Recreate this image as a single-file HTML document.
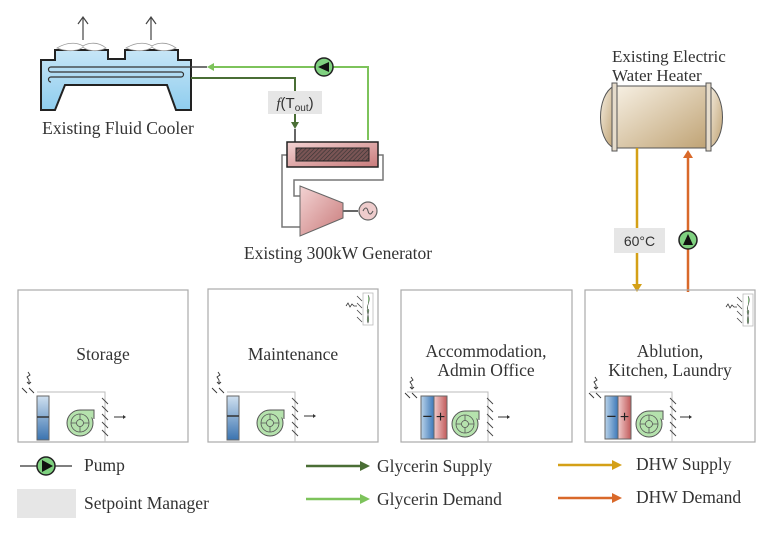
<!DOCTYPE html>
<html><head><meta charset="utf-8"><style>
html,body{margin:0;padding:0;background:#fff}
svg text{font-family:"Liberation Serif",serif;fill:#333}
svg text.sans{font-family:"Liberation Sans",sans-serif}
</style></head><body>
<svg width="768" height="532" viewBox="0 0 768 532" xmlns="http://www.w3.org/2000/svg">
<defs>
<linearGradient id="cool" x1="0" y1="0" x2="0" y2="1"><stop offset="0" stop-color="#c7e6f7"/><stop offset="1" stop-color="#8fcdee"/></linearGradient>
<linearGradient id="tank" x1="0" y1="0" x2="1" y2="1"><stop offset="0" stop-color="#f6efe2"/><stop offset="1" stop-color="#bfa273"/></linearGradient>
<linearGradient id="red" x1="0" y1="0" x2="1" y2="1"><stop offset="0" stop-color="#f3d3d3"/><stop offset="1" stop-color="#c97b7b"/></linearGradient>
<linearGradient id="blue" x1="0" y1="0" x2="1" y2="0"><stop offset="0" stop-color="#b9d3ea"/><stop offset="1" stop-color="#3d78b8"/></linearGradient>
<linearGradient id="blueV" x1="0" y1="0" x2="0" y2="1"><stop offset="0" stop-color="#cfe0f0"/><stop offset="1" stop-color="#3a73b0"/></linearGradient>
<linearGradient id="redH" x1="0" y1="0" x2="1" y2="0"><stop offset="0" stop-color="#f0cccc"/><stop offset="1" stop-color="#c25a5a"/></linearGradient>
<pattern id="hatch" width="3" height="3" patternUnits="userSpaceOnUse" patternTransform="rotate(45)"><rect width="3" height="3" fill="#7a5555"/><line x1="0" y1="0" x2="0" y2="3" stroke="#333" stroke-width="1.2"/></pattern>
<g id="fan">
<circle r="13" fill="#b5e2ad" stroke="#555" stroke-width="1"/>
<path d="M0,-13 L14,-13 L14,-4" fill="#b5e2ad" stroke="#555" stroke-width="1"/>
<circle r="9" fill="none" stroke="#555" stroke-width="0.8"/>
<circle r="3.5" fill="none" stroke="#555" stroke-width="0.8"/>
<path d="M0,-9 L0,-3.5 M0,9 L0,3.5 M-9,0 L-3.5,0 M9,0 L3.5,0" stroke="#555" stroke-width="0.8"/>
</g>
<g id="hat" stroke="#444" stroke-width="0.9">
<line x1="0" y1="0" x2="6" y2="6"/><line x1="0" y1="8" x2="6" y2="14"/><line x1="0" y1="16" x2="6" y2="22"/><line x1="0" y1="24" x2="6" y2="30"/><line x1="0" y1="32" x2="6" y2="38"/>
</g>
<g id="sens" stroke="#333" stroke-width="0.9" fill="none">
<path d="M0,0 l2,3 l-3,2 l2,3"/><path d="M1,8 l0,3" /><path d="M-1,10 l2,2 l2,-2" />
<line x1="-6" y1="16" x2="-1" y2="21"/><line x1="1" y1="16" x2="6" y2="21"/>
</g>
<g id="thermo">
<line x1="-9" y1="2" x2="-4" y2="7" stroke="#444" stroke-width="0.8"/>
<line x1="-9" y1="9" x2="-4" y2="14" stroke="#444" stroke-width="0.8"/>
<line x1="-9" y1="16" x2="-4" y2="21" stroke="#444" stroke-width="0.8"/>
<line x1="-9" y1="23" x2="-4" y2="28" stroke="#444" stroke-width="0.8"/>
<rect x="-3" y="-1" width="10" height="32" fill="#fff" stroke="#bbb" stroke-width="0.8"/>
<path d="M2,1 C6,6 -1,14 2,15 C5,16 -1,24 2,29 C5,24 -1,16 2,15" fill="#8fd08a" stroke="#555" stroke-width="0.6"/>
<path d="M-20,12 l2,-3 l2,4 l2,-3 l2,2 l3,0" stroke="#333" stroke-width="0.8" fill="none"/>
</g>
</defs>

<!-- Fluid cooler -->
<line x1="83" y1="40" x2="83" y2="18" stroke="#444" stroke-width="1.2"/><path d="M78,24 L83,17 L88,24" fill="none" stroke="#444" stroke-width="1.2"/>
<line x1="151" y1="40" x2="151" y2="18" stroke="#444" stroke-width="1.2"/><path d="M146,24 L151,17 L156,24" fill="none" stroke="#444" stroke-width="1.2"/>
<path d="M41,60 L55,60 L55,50 L108,50 L108,59 L125,59 L125,50 L178,50 L178,60 L191,60 L191,110 L176,110 L167,85 L65,85 L55,110 L41,110 Z" fill="url(#cool)" stroke="#222" stroke-width="2"/>
<path d="M57,48 C70,40 80,44 83,46 C86,44 96,40 106,48 C96,53 86,50 83,47 C80,50 70,53 57,48Z" fill="#fff" stroke="#999" stroke-width="0.8"/>
<path d="M126,48 C139,40 149,44 152,46 C155,44 165,40 176,48 C165,53 155,50 152,47 C149,50 139,53 126,48Z" fill="#fff" stroke="#999" stroke-width="0.8"/>
<path d="M191,67 L51,67 A2.5,2.5 0 0 0 51,72 L181,72 A2.5,2.5 0 0 1 181,77 L51,77 A2.5,2.5 0 0 0 51,82" fill="none" stroke="#333" stroke-width="1.2"/>
<text x="118" y="134" font-size="17.5" text-anchor="middle">Existing Fluid Cooler</text>

<!-- glycerin pipes -->
<path d="M368,140 L368,67 L212,67" fill="none" stroke="#7dc35b" stroke-width="2"/>
<path d="M214,63 L207,67 L214,71 Z" fill="#7dc35b"/>
<line x1="191" y1="67" x2="207" y2="67" stroke="#444" stroke-width="1.5"/>
<path d="M191,78 L295,78 L295,125" fill="none" stroke="#4a6e35" stroke-width="2"/>
<path d="M291,122 L295,129 L299,122 Z" fill="#4a6e35"/>
<line x1="295" y1="129" x2="295" y2="142" stroke="#333" stroke-width="1.5"/>
<circle cx="324" cy="67" r="9" fill="#7fd180" stroke="#222" stroke-width="1.5"/>
<path d="M329,62 L318,67 L329,72 Z" fill="#111"/>
<rect x="268" y="91" width="54" height="23" fill="#e6e6e6"/>
<text x="295" y="108" font-size="15" text-anchor="middle" class="sans"><tspan font-style="italic" style="font-family:'Liberation Serif',serif">f</tspan>(T<tspan font-size="10" dy="3">out</tspan><tspan dy="-3">)</tspan></text>

<!-- generator -->
<path d="M288,155 L282,155 L282,227 L300,227 M378,155 L383,155 L383,180 L294,180 L294,196 L300,196" fill="none" stroke="#777" stroke-width="1.5"/>
<rect x="287" y="142" width="91" height="25" fill="url(#red)" stroke="#222" stroke-width="1.5"/>
<rect x="296" y="148" width="73" height="13" fill="url(#hatch)" stroke="#222" stroke-width="1"/>
<path d="M300,186 L343,203 L343,218 L300,236 Z" fill="url(#red)" stroke="#666" stroke-width="1"/>
<line x1="343" y1="211" x2="358" y2="211" stroke="#666" stroke-width="2"/>
<circle cx="368" cy="211" r="9" fill="#ecc" stroke="#666" stroke-width="1.2"/>
<path d="M363,211 C365,207 367,207 368,211 C369,215 371,215 373,211" fill="none" stroke="#555" stroke-width="1"/>
<text x="338" y="259" font-size="17.5" text-anchor="middle">Existing 300kW Generator</text>

<!-- water heater -->
<text x="612" y="62" font-size="17">Existing Electric</text>
<text x="612" y="81" font-size="17">Water Heater</text>
<path d="M614,86 C596,95 596,140 614,148 Z" fill="url(#tank)" stroke="#555" stroke-width="1"/>
<path d="M709,86 C727,95 727,140 709,148 Z" fill="url(#tank)" stroke="#555" stroke-width="1"/>
<rect x="617" y="86" width="92" height="62" fill="url(#tank)" stroke="#555" stroke-width="1"/>
<rect x="612" y="83" width="5" height="68" fill="#e6dccb" stroke="#555" stroke-width="1"/>
<rect x="706" y="83" width="5" height="68" fill="#e6dccb" stroke="#555" stroke-width="1"/>
<line x1="637" y1="148" x2="637" y2="286" stroke="#d4a017" stroke-width="2.5"/>
<path d="M632,284 L637,292 L642,284 Z" fill="#d4a017"/>
<rect x="614" y="228" width="51" height="25" fill="#e6e6e6"/>
<text x="639.5" y="246" font-size="14" text-anchor="middle" class="sans">60°C</text>
<line x1="688" y1="292" x2="688" y2="156" stroke="#d9692a" stroke-width="2.5"/>
<path d="M683,158 L688,150 L693,158 Z" fill="#d9692a"/>
<circle cx="688" cy="240" r="9" fill="#7fd180" stroke="#222" stroke-width="1.5"/>
<path d="M683,245 L688,234 L693,245 Z" fill="#111"/>

<!-- rooms -->
<g fill="none" stroke="#aaa" stroke-width="1.2">
<rect x="18" y="290" width="170" height="152"/>
<rect x="208" y="289" width="170" height="153"/>
<rect x="401" y="290" width="171" height="152"/>
<rect x="585" y="290" width="170" height="152"/>
</g>
<text x="103" y="360" font-size="17.5" text-anchor="middle">Storage</text>
<text x="293" y="360" font-size="17.5" text-anchor="middle">Maintenance</text>
<text x="486" y="357" font-size="17.5" text-anchor="middle">Accommodation,</text>
<text x="486" y="376" font-size="17.5" text-anchor="middle">Admin Office</text>
<text x="670" y="357" font-size="17.5" text-anchor="middle">Ablution,</text>
<text x="670" y="376" font-size="17.5" text-anchor="middle">Kitchen, Laundry</text>
<use href="#thermo" x="366" y="294"/>
<use href="#thermo" x="746" y="295"/>

<!-- storage unit -->
<path d="M37,392 L105,392 L105,442" fill="none" stroke="#bbb" stroke-width="1"/>
<use href="#sens" x="28" y="372"/>
<rect x="37" y="396" width="12" height="44" fill="url(#blueV)" stroke="#666"/>
<line x1="37" y1="417" x2="49" y2="417" stroke="#333" stroke-width="1.5"/>
<use href="#fan" x="80" y="423"/>
<use href="#hat" x="102" y="398"/>
<path d="M114,417 L125,417" stroke="#333"/><path d="M123,415 L126,417 L123,419Z" fill="#333"/>
<!-- maintenance unit -->
<path d="M227,392 L295,392 L295,442" fill="none" stroke="#bbb" stroke-width="1"/>
<use href="#sens" x="218" y="372"/>
<rect x="227" y="396" width="12" height="44" fill="url(#blueV)" stroke="#666"/>
<line x1="227" y1="416" x2="239" y2="416" stroke="#333" stroke-width="1.5"/>
<use href="#fan" x="270" y="423"/>
<use href="#hat" x="292" y="398"/>
<path d="M304,416 L315,416" stroke="#333"/><path d="M313,414 L316,416 L313,418Z" fill="#333"/>
<!-- accommodation unit -->
<path d="M407,392 L488,392 L488,442" fill="none" stroke="#bbb" stroke-width="1"/>
<use href="#sens" x="411" y="377"/>
<rect x="421" y="396" width="13" height="43" fill="url(#blue)" stroke="#666"/>
<rect x="434" y="396" width="13" height="43" fill="url(#redH)" stroke="#666"/>
<text x="427.5" y="422" font-size="17" text-anchor="middle" class="sans" style="fill:#222">−</text>
<text x="440.5" y="422" font-size="16" text-anchor="middle" class="sans" style="fill:#222">+</text>
<use href="#fan" x="465" y="424"/>
<use href="#hat" x="487" y="398"/>
<path d="M498,417 L509,417" stroke="#333"/><path d="M507,415 L510,417 L507,419Z" fill="#333"/>
<!-- ablution unit -->
<path d="M590,392 L672,392 L672,442" fill="none" stroke="#bbb" stroke-width="1"/>
<use href="#sens" x="595" y="377"/>
<rect x="605" y="396" width="13" height="43" fill="url(#blue)" stroke="#666"/>
<rect x="618" y="396" width="13" height="43" fill="url(#redH)" stroke="#666"/>
<text x="611.5" y="422" font-size="17" text-anchor="middle" class="sans" style="fill:#222">−</text>
<text x="624.5" y="422" font-size="16" text-anchor="middle" class="sans" style="fill:#222">+</text>
<use href="#fan" x="649" y="424"/>
<use href="#hat" x="670" y="398"/>
<path d="M680,417 L691,417" stroke="#333"/><path d="M689,415 L692,417 L689,419Z" fill="#333"/>

<!-- legend -->
<line x1="20" y1="466" x2="72" y2="466" stroke="#333" stroke-width="1.2"/>
<circle cx="46" cy="466" r="9" fill="#7fd180" stroke="#222" stroke-width="1.5"/>
<path d="M42,460 L53,466 L42,472 Z" fill="#111"/>
<text x="84" y="471" font-size="17.5">Pump</text>
<rect x="17" y="489" width="59" height="29" fill="#e6e6e6"/>
<text x="84" y="509" font-size="17.5">Setpoint Manager</text>
<line x1="306" y1="466" x2="362" y2="466" stroke="#4a6e35" stroke-width="2.5"/><path d="M360,461 L370,466 L360,471Z" fill="#4a6e35"/>
<text x="377" y="472" font-size="17.5">Glycerin Supply</text>
<line x1="306" y1="499" x2="362" y2="499" stroke="#7dc35b" stroke-width="2.5"/><path d="M360,494 L370,499 L360,504Z" fill="#7dc35b"/>
<text x="377" y="505" font-size="17.5">Glycerin Demand</text>
<line x1="558" y1="465" x2="614" y2="465" stroke="#d4a017" stroke-width="2.5"/><path d="M612,460 L622,465 L612,470Z" fill="#d4a017"/>
<text x="636" y="470" font-size="17.5">DHW Supply</text>
<line x1="558" y1="498" x2="614" y2="498" stroke="#d9692a" stroke-width="2.5"/><path d="M612,493 L622,498 L612,503Z" fill="#d9692a"/>
<text x="636" y="503" font-size="17.5">DHW Demand</text>
</svg>
</body></html>
